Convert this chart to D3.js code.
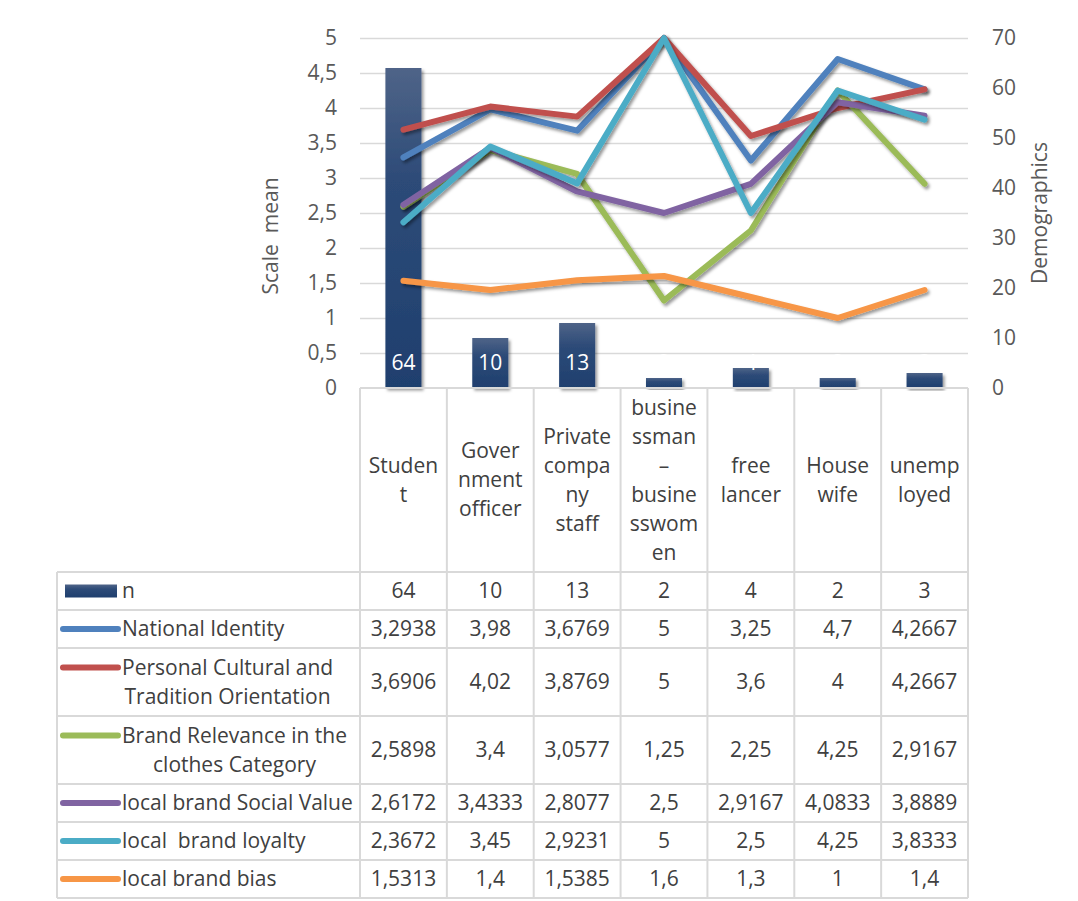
<!DOCTYPE html>
<html><head><meta charset="utf-8">
<script src="https://cdn.jsdelivr.net/npm/d3@7"></script>
<style>
body{margin:0;background:#fff}
svg{display:block}
text{font-family:"Open Sans",sans-serif}
</style>
</head><body>
<svg id="c" width="1078" height="901"></svg>
<script>
// ---------- data ----------
const categories = ["Student","Government officer","Private company staff","businessman – businesswomen","free lancer","House wife","unemployed"];
const categoryLines = [["Studen","t"],["Gover","nment","officer"],["Private","compa","ny","staff"],["busine","ssman","–","busine","sswom","en"],["free","lancer"],["House","wife"],["unemp","loyed"]];
const nValues = [64,10,13,2,4,2,3];
const nationalIdentity = [3.2938,3.98,3.6769,5,3.25,4.7,4.2667];
const personalCultural = [3.6906,4.02,3.8769,5,3.6,4,4.2667];
const brandRelevance = [2.5898,3.4,3.0577,1.25,2.25,4.25,2.9167];
const socialValue = [2.6172,3.4333,2.8077,2.5,2.9167,4.0833,3.8889];
const brandLoyalty = [2.3672,3.45,2.9231,5,2.5,4.25,3.8333];
const brandBias = [1.5313,1.4,1.5385,1.6,1.3,1,1.4];
const leftTicks = [0,0.5,1,1.5,2,2.5,3,3.5,4,4.5,5];
const rightTicks = [0,10,20,30,40,50,60,70];
const lineSeriesNames = [["National Identity"],["Personal Cultural and","Tradition Orientation"],["Brand Relevance in the","clothes Category"],["local brand Social Value"],["local  brand loyalty"],["local brand bias"]];
const lineSeriesValues = [nationalIdentity,personalCultural,brandRelevance,socialValue,brandLoyalty,brandBias];
const lineColors = ["#4F81BD","#C0504D","#9BBB59","#8064A2","#4BACC6","#F79646"];
const leftTitle = "Scale  mean";
const rightTitle = "Demographics";

// ---------- layout ----------
const svg = d3.select("#c");
const L = 360, R = 968, T = 38, B = 388;
const fs = 21;
const axisColor = "#595959", textColor = "#404040", gridColor = "#d9d9d9";

const defs = svg.append("defs");
const grad = defs.append("linearGradient").attr("id","barGrad").attr("x1",0).attr("y1",0).attr("x2",0).attr("y2",1);
grad.append("stop").attr("offset","0%").attr("stop-color","#4F6488");
grad.append("stop").attr("offset","35%").attr("stop-color","#2D4B78");
grad.append("stop").attr("offset","100%").attr("stop-color","#1F3F6E");
const sh = defs.append("filter").attr("id","shadow").attr("x","-20%").attr("y","-20%").attr("width","140%").attr("height","140%");
sh.append("feDropShadow").attr("dx",2).attr("dy",2.5).attr("stdDeviation",1.6).attr("flood-color","#000").attr("flood-opacity",0.4);

const x = d3.scaleBand().domain(categories).range([L,R]).paddingInner(0.585).paddingOuter(0.2925);
const xc = d => x(d) + x.bandwidth()/2;
const yL = d3.scaleLinear().domain([0,5]).range([B,T]);
const yR = d3.scaleLinear().domain([0,70]).range([B,T]);
const fmt = v => String(v).replace(".", ",");

// gridlines
const grid = svg.append("g").attr("transform",`translate(${L},0)`)
  .call(d3.axisRight(yL).tickValues(leftTicks.filter(d=>d>0)).tickSize(R-L).tickFormat(""));
grid.select(".domain").remove();
grid.selectAll("line").attr("stroke",gridColor).attr("stroke-width",1.5);

// left axis
const ax = svg.append("g").attr("transform",`translate(${L},0)`)
  .call(d3.axisLeft(yL).tickValues(leftTicks).tickSize(0).tickPadding(23).tickFormat(fmt));
ax.select(".domain").remove();
ax.selectAll("text").attr("font-size",fs).attr("fill",axisColor).style("font-family","Open Sans");

// right axis
const ar = svg.append("g").attr("transform",`translate(${R},0)`)
  .call(d3.axisRight(yR).tickValues(rightTicks).tickSize(0).tickPadding(24));
ar.select(".domain").remove();
ar.selectAll("text").attr("font-size",fs).attr("fill",axisColor).style("font-family","Open Sans");

// axis titles
svg.append("text").attr("transform",`translate(278,236) rotate(-90)`).attr("text-anchor","middle")
  .attr("font-size",fs).attr("fill",axisColor).attr("xml:space","preserve").style("white-space","pre").text(leftTitle);
svg.append("text").attr("transform",`translate(1047,213) rotate(-90)`).attr("text-anchor","middle")
  .attr("font-size",fs).attr("fill",axisColor).text(rightTitle);

// bars (secondary axis)
svg.append("g").selectAll("rect").data(categories).join("rect")
  .attr("x",d=>x(d)).attr("width",x.bandwidth())
  .attr("y",(d,i)=>yR(nValues[i])).attr("height",(d,i)=>B-yR(nValues[i]))
  .attr("fill","url(#barGrad)").attr("filter","url(#shadow)");
svg.append("g").selectAll("text").data(categories).join("text")
  .attr("x",xc).attr("y",B-18).attr("text-anchor","middle").attr("font-size",fs).attr("fill","#fff")
  .text((d,i)=>nValues[i]);

// lines
const lineGen = vals => d3.line().x((d,i)=>xc(categories[i])).y(d=>yL(d))(vals);
svg.append("g").selectAll("path").data(lineSeriesValues).join("path")
  .attr("d",lineGen).attr("fill","none").attr("stroke",(d,i)=>lineColors[i])
  .attr("stroke-width",6).attr("stroke-linejoin","round").attr("stroke-linecap","round")
  .attr("filter","url(#shadow)");

// category axis (table header)
const cax = svg.append("g").attr("transform",`translate(0,${B})`)
  .call(d3.axisBottom(x).tickSize(0).tickFormat(""));
cax.select(".domain").attr("stroke",gridColor).attr("stroke-width",2).attr("d",`M${L},0H${R}`);
const lineH = 29, headMid = (572-B)/2;
cax.selectAll(".tick").each(function(d,i){
  const lines = categoryLines[i];
  const t = d3.select(this).append("text").attr("text-anchor","middle").attr("font-size",fs).attr("fill",textColor);
  lines.forEach((s,k)=>{
    t.append("tspan").attr("x",0).attr("y",headMid + (k-(lines.length-1)/2)*lineH).attr("dy","0.35em").text(s);
  });
});

// data table
const rowY = [572,610,648,716,784,822,860,898];
const tblLeft = 57;
const tg = svg.append("g").attr("stroke",gridColor).attr("stroke-width",2);
rowY.forEach(y=>tg.append("line").attr("x1",tblLeft).attr("x2",R).attr("y1",y).attr("y2",y));
tg.append("line").attr("x1",tblLeft).attr("x2",tblLeft).attr("y1",rowY[0]).attr("y2",rowY[7]);
tg.append("line").attr("x1",L).attr("x2",L).attr("y1",B).attr("y2",rowY[7]);
categories.forEach((c,i)=>{
  const bx = L + (i+1)*x.step();
  tg.append("line").attr("x1",bx).attr("x2",bx).attr("y1",B).attr("y2",rowY[7]);
});

// rows
const allRows = [{name:["n"], vals:nValues, color:null}].concat(
  lineSeriesNames.map((n,i)=>({name:n, vals:lineSeriesValues[i], color:lineColors[i]})));
const labX = 122;
allRows.forEach((r,ri)=>{
  const y0 = rowY[ri], y1 = rowY[ri+1], mid = (y0+y1)/2;
  const nl = r.name.length;
  const firstY = mid - (nl-1)/2*29;
  if (r.color === null) {
    svg.append("rect").attr("x",65).attr("y",mid-6.5).attr("width",52).attr("height",13).attr("fill","url(#barGrad)");
  } else {
    svg.append("line").attr("x1",63).attr("x2",118).attr("y1",firstY).attr("y2",firstY)
      .attr("stroke",r.color).attr("stroke-width",6).attr("stroke-linecap","round");
  }
  const t = svg.append("text").attr("font-size",fs).attr("fill",textColor);
  const spans = r.name.map((s,k)=>t.append("tspan").attr("y",firstY + k*29).attr("dy","0.35em").attr("xml:space","preserve").style("white-space","pre").text(s));
  let maxW = 0;
  spans.forEach(sp=>{maxW = Math.max(maxW, sp.node().getComputedTextLength());});
  if (nl === 1) { t.attr("x",labX); spans.forEach(sp=>sp.attr("x",labX)); }
  else { t.attr("text-anchor","middle"); spans.forEach(sp=>sp.attr("x",labX+maxW/2)); }
  r.vals.forEach((v,ci)=>{
    svg.append("text").attr("x",xc(categories[ci])).attr("y",mid).attr("dy","0.35em")
      .attr("text-anchor","middle").attr("font-size",fs).attr("fill",textColor).text(fmt(v));
  });
});
</script>
</body></html>
